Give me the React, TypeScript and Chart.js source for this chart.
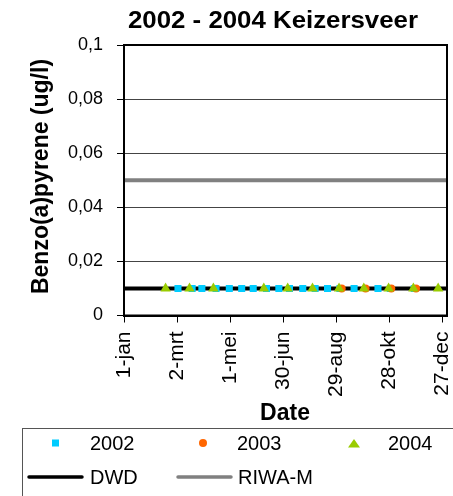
import React, { useEffect, useRef } from "react";
import { Chart, registerables } from "chart.js";

Chart.register(...registerables);

const FONT = '"Liberation Sans", Arial, Helvetica, sans-serif';

const chartTitle = "2002 - 2004 Keizersveer";
const yAxisTitle = "Benzo(a)pyrene (ug/l)";
const xAxisTitle = "Date";

const xTickDays = [0, 60, 120, 180, 240, 300, 360];
const xTickLabels = ["1-jan", "2-mrt", "1-mei", "30-jun", "29-aug", "28-okt", "27-dec"];
const yTickValues = [0, 0.02, 0.04, 0.06, 0.08, 0.1];

const days2002 = [61, 77, 88, 104, 119, 133, 146, 161, 175, 187, 202, 216, 230, 244, 260, 287, 301, 328];
const values2002 = [0.01, 0.01, 0.01, 0.01, 0.01, 0.01, 0.01, 0.01, 0.01, 0.01, 0.01, 0.01, 0.01, 0.01, 0.01, 0.01, 0.01, 0.01];

const days2003 = [246, 273, 302, 330];
const values2003 = [0.01, 0.01, 0.01, 0.01];

const days2004 = [47, 74, 101, 158, 185, 213, 243, 271, 299, 327, 355];
const values2004 = [0.01, 0.01, 0.01, 0.01, 0.01, 0.01, 0.01, 0.01, 0.01, 0.01, 0.01];

const lineDays = [0, 365];
const dwdValues = [0.01, 0.01];
const riwaValues = [0.05, 0.05];

const seriesNames = ["2002", "2003", "2004", "DWD", "RIWA-M"];
const seriesColors = ["#00CCFF", "#FF6600", "#99CC00", "#000000", "#808080"];

const toPoints = (xs: number[], ys: number[]) => xs.map((x, i) => ({ x, y: ys[i] }));

const decorations = {
  id: "decorations",
  afterDraw(chart: any) {
    const ctx = chart.ctx as CanvasRenderingContext2D;
    const area = chart.chartArea;
    ctx.save();
    ctx.strokeStyle = "#000";
    ctx.lineWidth = 2;
    ctx.strokeRect(area.left, area.top, area.right - area.left, area.bottom - area.top);

    ctx.fillStyle = "#000";
    ctx.font = `bold 23px ${FONT}`;
    ctx.textAlign = "left";
    ctx.textBaseline = "alphabetic";
    const tw = ctx.measureText(chartTitle).width;
    ctx.save();
    ctx.translate(128, 28);
    ctx.scale(290 / tw, 1);
    ctx.fillText(chartTitle, 0, 0);
    ctx.restore();

    ctx.save();
    ctx.font = `bold 23px ${FONT}`;
    ctx.translate(48, 176.5);
    ctx.rotate(-Math.PI / 2);
    ctx.textAlign = "center";
    ctx.fillText(yAxisTitle, 0, 0);
    ctx.restore();

    ctx.font = `bold 23px ${FONT}`;
    ctx.textAlign = "center";
    ctx.fillText(xAxisTitle, 285, 420);

    ctx.strokeStyle = "#555";
    ctx.lineWidth = 1;
    ctx.strokeRect(22.5, 428.5, 460, 100);

    ctx.font = `20px ${FONT}`;
    ctx.textAlign = "left";
    ctx.fillStyle = seriesColors[0];
    ctx.fillRect(52, 439.5, 7, 7);
    ctx.fillStyle = seriesColors[1];
    ctx.beginPath();
    ctx.arc(203, 443, 4, 0, Math.PI * 2);
    ctx.fill();
    ctx.fillStyle = seriesColors[2];
    ctx.beginPath();
    ctx.moveTo(348, 447.5);
    ctx.lineTo(360, 447.5);
    ctx.lineTo(354, 439);
    ctx.closePath();
    ctx.fill();

    ctx.fillStyle = "#000";
    ctx.fillText(seriesNames[0], 90, 450);
    ctx.fillText(seriesNames[1], 237, 450);
    ctx.fillText(seriesNames[2], 388, 450);

    ctx.lineWidth = 3.5;
    ctx.lineCap = "round";
    ctx.strokeStyle = seriesColors[3];
    ctx.beginPath();
    ctx.moveTo(29, 477);
    ctx.lineTo(82, 477);
    ctx.stroke();
    ctx.strokeStyle = seriesColors[4];
    ctx.beginPath();
    ctx.moveTo(178, 477);
    ctx.lineTo(231, 477);
    ctx.stroke();

    ctx.fillStyle = "#000";
    ctx.fillText(seriesNames[3], 90, 484);
    ctx.fillText(seriesNames[4], 238, 484);
    ctx.restore();
  },
};

export default function App() {
  const ref = useRef<HTMLCanvasElement>(null);

  useEffect(() => {
    document.body.style.margin = "0";
    document.body.style.overflow = "hidden";
    const canvas = ref.current;
    if (!canvas) return;
    const chart = new Chart(canvas, {
      type: "scatter",
      data: {
        datasets: [
          {
            label: seriesNames[0],
            data: toPoints(days2002, values2002),
            pointStyle: "rect",
            pointRadius: 5,
            pointBorderWidth: 0,
            backgroundColor: seriesColors[0],
            borderColor: seriesColors[0],
            order: 3,
          },
          {
            label: seriesNames[1],
            data: toPoints(days2003, values2003),
            pointStyle: "circle",
            pointRadius: 4,
            pointBorderWidth: 0,
            backgroundColor: seriesColors[1],
            borderColor: seriesColors[1],
            order: 2,
          },
          {
            label: seriesNames[2],
            data: toPoints(days2004, values2004),
            pointStyle: "triangle",
            pointRadius: 6,
            pointBorderWidth: 0,
            backgroundColor: seriesColors[2],
            borderColor: seriesColors[2],
            order: 1,
          },
          {
            type: "line",
            label: seriesNames[3],
            data: toPoints(lineDays, dwdValues),
            borderColor: seriesColors[3],
            borderWidth: 4,
            pointRadius: 0,
            showLine: true,
            order: 10,
          } as any,
          {
            type: "line",
            label: seriesNames[4],
            data: toPoints(lineDays, riwaValues),
            borderColor: seriesColors[4],
            borderWidth: 4,
            pointRadius: 0,
            showLine: true,
            order: 11,
          } as any,
        ],
      },
      options: {
        responsive: false,
        animation: false,
        layout: { padding: { top: 45, right: 1.5, bottom: 0, left: 0 } },
        plugins: {
          legend: { display: false },
          title: { display: false },
          tooltip: { enabled: false },
        },
        scales: {
          x: {
            type: "linear",
            min: 0,
            max: 365,
            afterFit: (scale: any) => {
              scale.height = 180.5;
              scale.paddingLeft = 0;
              scale.paddingRight = 0;
            },
            afterBuildTicks: (scale: any) => {
              scale.ticks = xTickDays.map((v) => ({ value: v }));
            },
            ticks: {
              autoSkip: false,
              minRotation: 90,
              maxRotation: 90,
              padding: 9,
              color: "#000",
              font: { family: FONT, size: 21 },
              callback: (v: any) => {
                const i = xTickDays.indexOf(Number(v));
                return i >= 0 ? xTickLabels[i] : "";
              },
            },
            grid: {
              display: true,
              drawOnChartArea: false,
              drawTicks: true,
              tickLength: 7,
              tickColor: "#000",
              tickWidth: 1,
            },
            border: { display: true, color: "#000", width: 2 },
          },
          y: {
            type: "linear",
            min: 0,
            max: 0.1,
            afterFit: (scale: any) => {
              scale.width = 124;
              scale.paddingTop = 0;
              scale.paddingBottom = 0;
            },
            afterBuildTicks: (scale: any) => {
              scale.ticks = yTickValues.map((v) => ({ value: v }));
            },
            ticks: {
              padding: 14,
              color: "#000",
              font: { family: FONT, size: 18 },
              callback: (v: any) => {
                const n = Number(v);
                if (n === 0) return "0";
                return String(+n.toFixed(2)).replace(".", ",");
              },
            },
            grid: {
              display: true,
              color: "#444",
              lineWidth: 1,
              drawTicks: true,
              tickLength: 7,
              tickColor: "#000",
            },
            border: { display: true, color: "#000", width: 2 },
          },
        },
      },
      plugins: [decorations],
    });
    return () => chart.destroy();
  }, []);

  return <canvas ref={ref} width={453} height={496} style={{ display: "block" }} />;
}
